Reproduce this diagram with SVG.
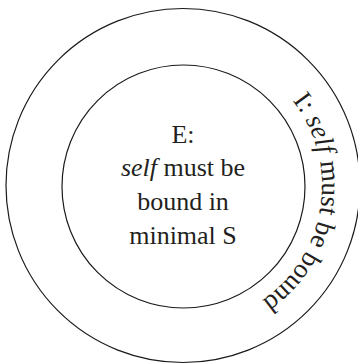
<svg xmlns="http://www.w3.org/2000/svg" width="358" height="364" viewBox="0 0 358 364">
<rect width="358" height="364" fill="#fff"/>
<g id="outer">
<circle cx="183" cy="185.5" r="177" fill="none" stroke="#1a1a1a" stroke-width="1.2"/>
<g id="outer-label" font-family="Liberation Serif" font-size="27" fill="#231f20" text-anchor="middle">
<text transform="translate(295.24,104.01) rotate(53.853)">I</text>
<text transform="translate(299.91,110.81) rotate(57.254)">:</text>
<g font-style="italic">
<text transform="translate(307.66,124.51) rotate(63.747)">s</text>
<text transform="translate(312.23,134.79) rotate(68.383)">e</text>
<text transform="translate(315.50,143.97) rotate(72.4)">l</text>
<text transform="translate(317.57,151.18) rotate(75.494)">f</text>
</g>
<text transform="translate(321.28,171.84) rotate(84.153)">m</text>
<text transform="translate(321.97,189.07) rotate(91.264)">u</text>
<text transform="translate(321.18,201.04) rotate(96.211)">s</text>
<text transform="translate(319.92,209.95) rotate(99.923)">t</text>
<text transform="translate(315.90,226.72) rotate(107.035)">b</text>
<text transform="translate(311.62,238.72) rotate(112.288)">e</text>
<text transform="translate(302.98,256.18) rotate(120.324)">b</text>
<text transform="translate(295.61,267.48) rotate(125.889)">o</text>
<text transform="translate(287.18,278.02) rotate(131.453)">u</text>
<text transform="translate(277.77,287.69) rotate(137.018)">n</text>
<text transform="translate(267.46,296.40) rotate(142.583)">d</text>
</g>
</g>
<g id="inner" font-family="Liberation Serif" font-size="26" fill="#231f20" text-anchor="middle">
<circle cx="183.5" cy="186.5" r="121.5" fill="none" stroke="#1a1a1a" stroke-width="1.2"/>
<text x="183" y="143">E:</text>
<text x="183" y="176"><tspan font-style="italic">self</tspan> must be</text>
<text x="183" y="210">bound in</text>
<text x="183" y="244">minimal S</text>
</g>
<g id="connectors"/>
</svg>
